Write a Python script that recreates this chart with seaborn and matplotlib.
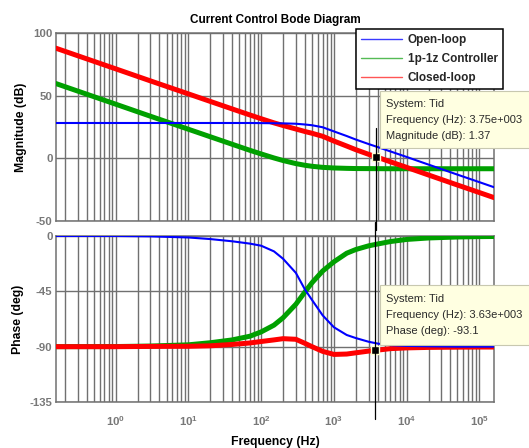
import numpy as np
import pandas as pd
import matplotlib
matplotlib.use("Agg")
import matplotlib.pyplot as plt
import matplotlib.transforms as mtransforms
from matplotlib.lines import Line2D
from matplotlib.patches import Rectangle
from matplotlib.ticker import LogLocator, FixedLocator, NullFormatter, FuncFormatter, NullLocator
import seaborn as sns

# ---------------- data ----------------
freq_hz = [0.15, 1, 3, 10, 20, 40, 70, 100, 150, 200, 300, 400, 500, 700,
           1000, 1500, 2000, 3000, 4000, 6000, 10000, 20000, 50000, 100000, 160000]

open_loop_mag_db = [28.2, 28.2, 28.2, 28.2, 28.2, 28.2, 28.2, 28.1, 28.0, 27.9, 27.6, 27.0, 26.4, 24.8,
                    21.5, 17.8, 15.0, 11.4, 9.0, 5.5, 1.1, -5.0, -13.0, -19.0, -23.1]
controller_mag_db = [59.7, 43.2, 33.6, 23.2, 17.2, 11.2, 6.4, 3.5, 0.3, -1.75, -4.2, -5.55, -6.35, -7.2,
                     -7.7, -8.0, -8.15, -8.2, -8.25, -8.3, -8.3, -8.3, -8.3, -8.3, -8.3]
closed_loop_mag_db = [87.9, 71.4, 61.8, 51.4, 45.4, 39.4, 34.6, 31.6, 28.3, 26.2, 23.4, 21.4, 20.0, 17.6,
                      13.8, 9.8, 6.9, 3.2, 0.8, -2.8, -7.2, -13.3, -21.3, -27.3, -31.4]

open_loop_phase_deg = [0.0, 0.0, -0.3, -1.2, -2.5, -4.3, -6.2, -7.9, -12.5, -18.5, -30.0, -43.5, -52.0, -64.5,
                       -74.2, -80.5, -83.0, -86.0, -87.5, -88.8, -89.4, -89.7, -90.0, -90.0, -90.0]
controller_phase_deg = [-90.0, -89.9, -89.5, -88.5, -86.8, -84.5, -81.5, -78.0, -72.5, -66.5, -55.5, -45.5, -38.0, -28.5,
                        -21.0, -14.0, -11.0, -8.0, -6.5, -4.5, -2.8, -1.6, -0.8, -0.5, -0.4]
closed_loop_phase_deg = [-90.0, -90.0, -89.8, -89.7, -89.3, -88.2, -87.0, -85.8, -84.5, -83.5, -84.0, -87.3, -90.0, -93.8,
                         -96.3, -96.0, -95.0, -93.6, -92.8, -91.6, -91.0, -90.6, -90.4, -90.3, -90.3]

series_names = ["Open-loop", "1p-1z Controller", "Closed-loop"]
series_colors = {"Open-loop": "#0000ff", "1p-1z Controller": "#00a000", "Closed-loop": "#ff0000"}
legend_colors = {"Open-loop": "#3a3aff", "1p-1z Controller": "#55bb55", "Closed-loop": "#ff5555"}

mag_ticks = [-50, 0, 50, 100]
phase_ticks = [-135, -90, -45, 0]
freq_decades = [0, 1, 2, 3, 4, 5]

tip_system = "Tid"
tip_mag_freq, tip_mag_value = 3.75e3, 1.37
tip_phase_freq, tip_phase_value = 3.63e3, -93.1

title = "Current Control Bode Diagram"

# ---------------- table ----------------
rows = []
for name, mags, phs in zip(series_names,
                           [open_loop_mag_db, controller_mag_db, closed_loop_mag_db],
                           [open_loop_phase_deg, controller_phase_deg, closed_loop_phase_deg]):
    for f, m, p in zip(freq_hz, mags, phs):
        rows.append({"freq": f, "series": name, "mag": m, "phase": p})
df = pd.DataFrame(rows)

# ---------------- style ----------------
sns.set_theme(style="white")
plt.rcParams["font.family"] = ["Liberation Sans", "DejaVu Sans"]
plt.rcParams["mathtext.fontset"] = "custom"
plt.rcParams["mathtext.rm"] = "Liberation Sans"
plt.rcParams["mathtext.bf"] = "Liberation Sans:bold"
plt.rcParams["axes.unicode_minus"] = False

W, H = 529, 448
fig = plt.figure(figsize=(W / 100, H / 100), dpi=100)
fig.patch.set_facecolor("white")

def fx(px):
    return px / W

def fy(py):
    return 1 - py / H

ax_m = fig.add_axes([fx(56), fy(221), (494 - 56) / W, (221 - 33) / H])
ax_p = fig.add_axes([fx(56), fy(402), (494 - 56) / W, (402 - 236) / H])

grid_col = "#707070"
tick_col = "#787878"

draw_order = ["1p-1z Controller", "Closed-loop", "Open-loop"]
widths = {"Open-loop": 1.5, "1p-1z Controller": 3.6, "Closed-loop": 3.6}
major_freqs = [10.0 ** d for d in freq_decades]

for ax, col in [(ax_m, "mag"), (ax_p, "phase")]:
    ax.set_xscale("log")
    for z, name in enumerate(draw_order):
        sub = df[df["series"] == name]
        sns.lineplot(data=sub, x="freq", y=col, ax=ax, color=series_colors[name],
                     lw=widths[name], estimator=None, sort=True, legend=False, zorder=3 + z)
    ax.set_xlim(0.151, 1.59e5)
    ax.xaxis.set_major_locator(FixedLocator(major_freqs))
    ax.xaxis.set_minor_locator(LogLocator(base=10, subs=np.arange(2, 10), numticks=60))
    ax.xaxis.set_minor_formatter(NullFormatter())
    ax.yaxis.set_minor_locator(NullLocator())
    ax.grid(True, which="both", axis="x", color=grid_col, lw=1.0)
    ax.grid(True, which="major", axis="y", color=grid_col, lw=1.0)
    ax.set_axisbelow(True)
    for sp in ax.spines.values():
        sp.set_color(grid_col)
        sp.set_linewidth(1.1)
    ax.tick_params(which="both", length=0, colors=tick_col, labelsize=8.2, pad=2.5)
    ax.set_xlabel("")
    ax.set_ylabel("")

ax_m.set_ylim(-50, 100)
ax_m.yaxis.set_major_locator(FixedLocator(mag_ticks))
ax_m.xaxis.set_major_formatter(NullFormatter())
ax_p.set_ylim(-135, 0)
ax_p.yaxis.set_major_locator(FixedLocator(phase_ticks))
ax_p.xaxis.set_major_formatter(FuncFormatter(lambda v, pos: r"$\mathbf{10}^{\mathbf{%d}}$" % int(round(np.log10(v)))))
ax_p.tick_params(axis="x", pad=9)

for ax in (ax_m, ax_p):
    for lab in ax.get_yticklabels() + ax.get_xticklabels():
        lab.set_fontweight("bold")
        lab.set_color(tick_col)

ax_m.set_title(title, fontsize=8.5, fontweight="bold", color="black", pad=7.5)
fig.text(fx(21), fy(127), "Magnitude (dB)", rotation=90, ha="center", va="center",
         fontsize=8.8, fontweight="bold", color="black")
fig.text(fx(18), fy(319), "Phase (deg)", rotation=90, ha="center", va="center",
         fontsize=8.8, fontweight="bold", color="black")
fig.text(fx(275), fy(442), "Frequency (Hz)", ha="center", va="center",
         fontsize=8.8, fontweight="bold", color="black")

# ---------------- legend ----------------
handles = [Line2D([], [], color=legend_colors[n], lw=1.0) for n in series_names]
leg = ax_m.legend(handles, series_names, loc="upper left",
                  bbox_to_anchor=(fx(356), fy(29)), bbox_transform=fig.transFigure,
                  frameon=True, fancybox=False, edgecolor="black", framealpha=1,
                  borderpad=0.42, borderaxespad=0, handlelength=3.5, handletextpad=0.45,
                  labelspacing=0.6, prop={"weight": "bold", "size": 8.5})
leg.get_frame().set_linewidth(1.1)
leg.set_zorder(20)

# ---------------- data tips ----------------
def exp_fmt(v):
    e = int(np.floor(np.log10(abs(v))))
    m = v / 10 ** e
    return f"{m:.2f}e+{e:03d}"

for ax, f, v, ytop, ybot, lines_y, label, vy0, vy1 in [
        (ax_m, tip_mag_freq, tip_mag_value, 91.5, 148, [104, 120, 136],
         f"Magnitude (dB): {tip_mag_value:.3g}", 128, 230),
        (ax_p, tip_phase_freq, tip_phase_value, 285, 345, [299, 315, 331],
         f"Phase (deg): {tip_phase_value:.3g}", 222, 419)]:
    blend = mtransforms.blended_transform_factory(ax.transData, fig.transFigure)
    fig.add_artist(Line2D([f, f], [fy(vy0), fy(vy1)], transform=blend, color="black", lw=0.9, zorder=8))
    ax.plot([f], [v], marker="s", ms=5.5, mfc="black", mec="#ffffd0", mew=1.0,
            clip_on=False, zorder=30, ls="none")
    fig.add_artist(Rectangle((fx(380), fy(ybot)), fx(540 - 380), (ybot - ytop) / H,
                             transform=fig.transFigure, facecolor="#ffffe1",
                             edgecolor="#c8c8b0", lw=0.8, zorder=25))
    texts = [f"System: {tip_system}", f"Frequency (Hz): {exp_fmt(f)}", label]
    for t, yy in zip(texts, lines_y):
        fig.text(fx(386.5), fy(yy), t, ha="left", va="center", fontsize=8,
                 color="#2a2a2a", zorder=26)

fig.savefig("out.png", dpi=100, facecolor="white")
